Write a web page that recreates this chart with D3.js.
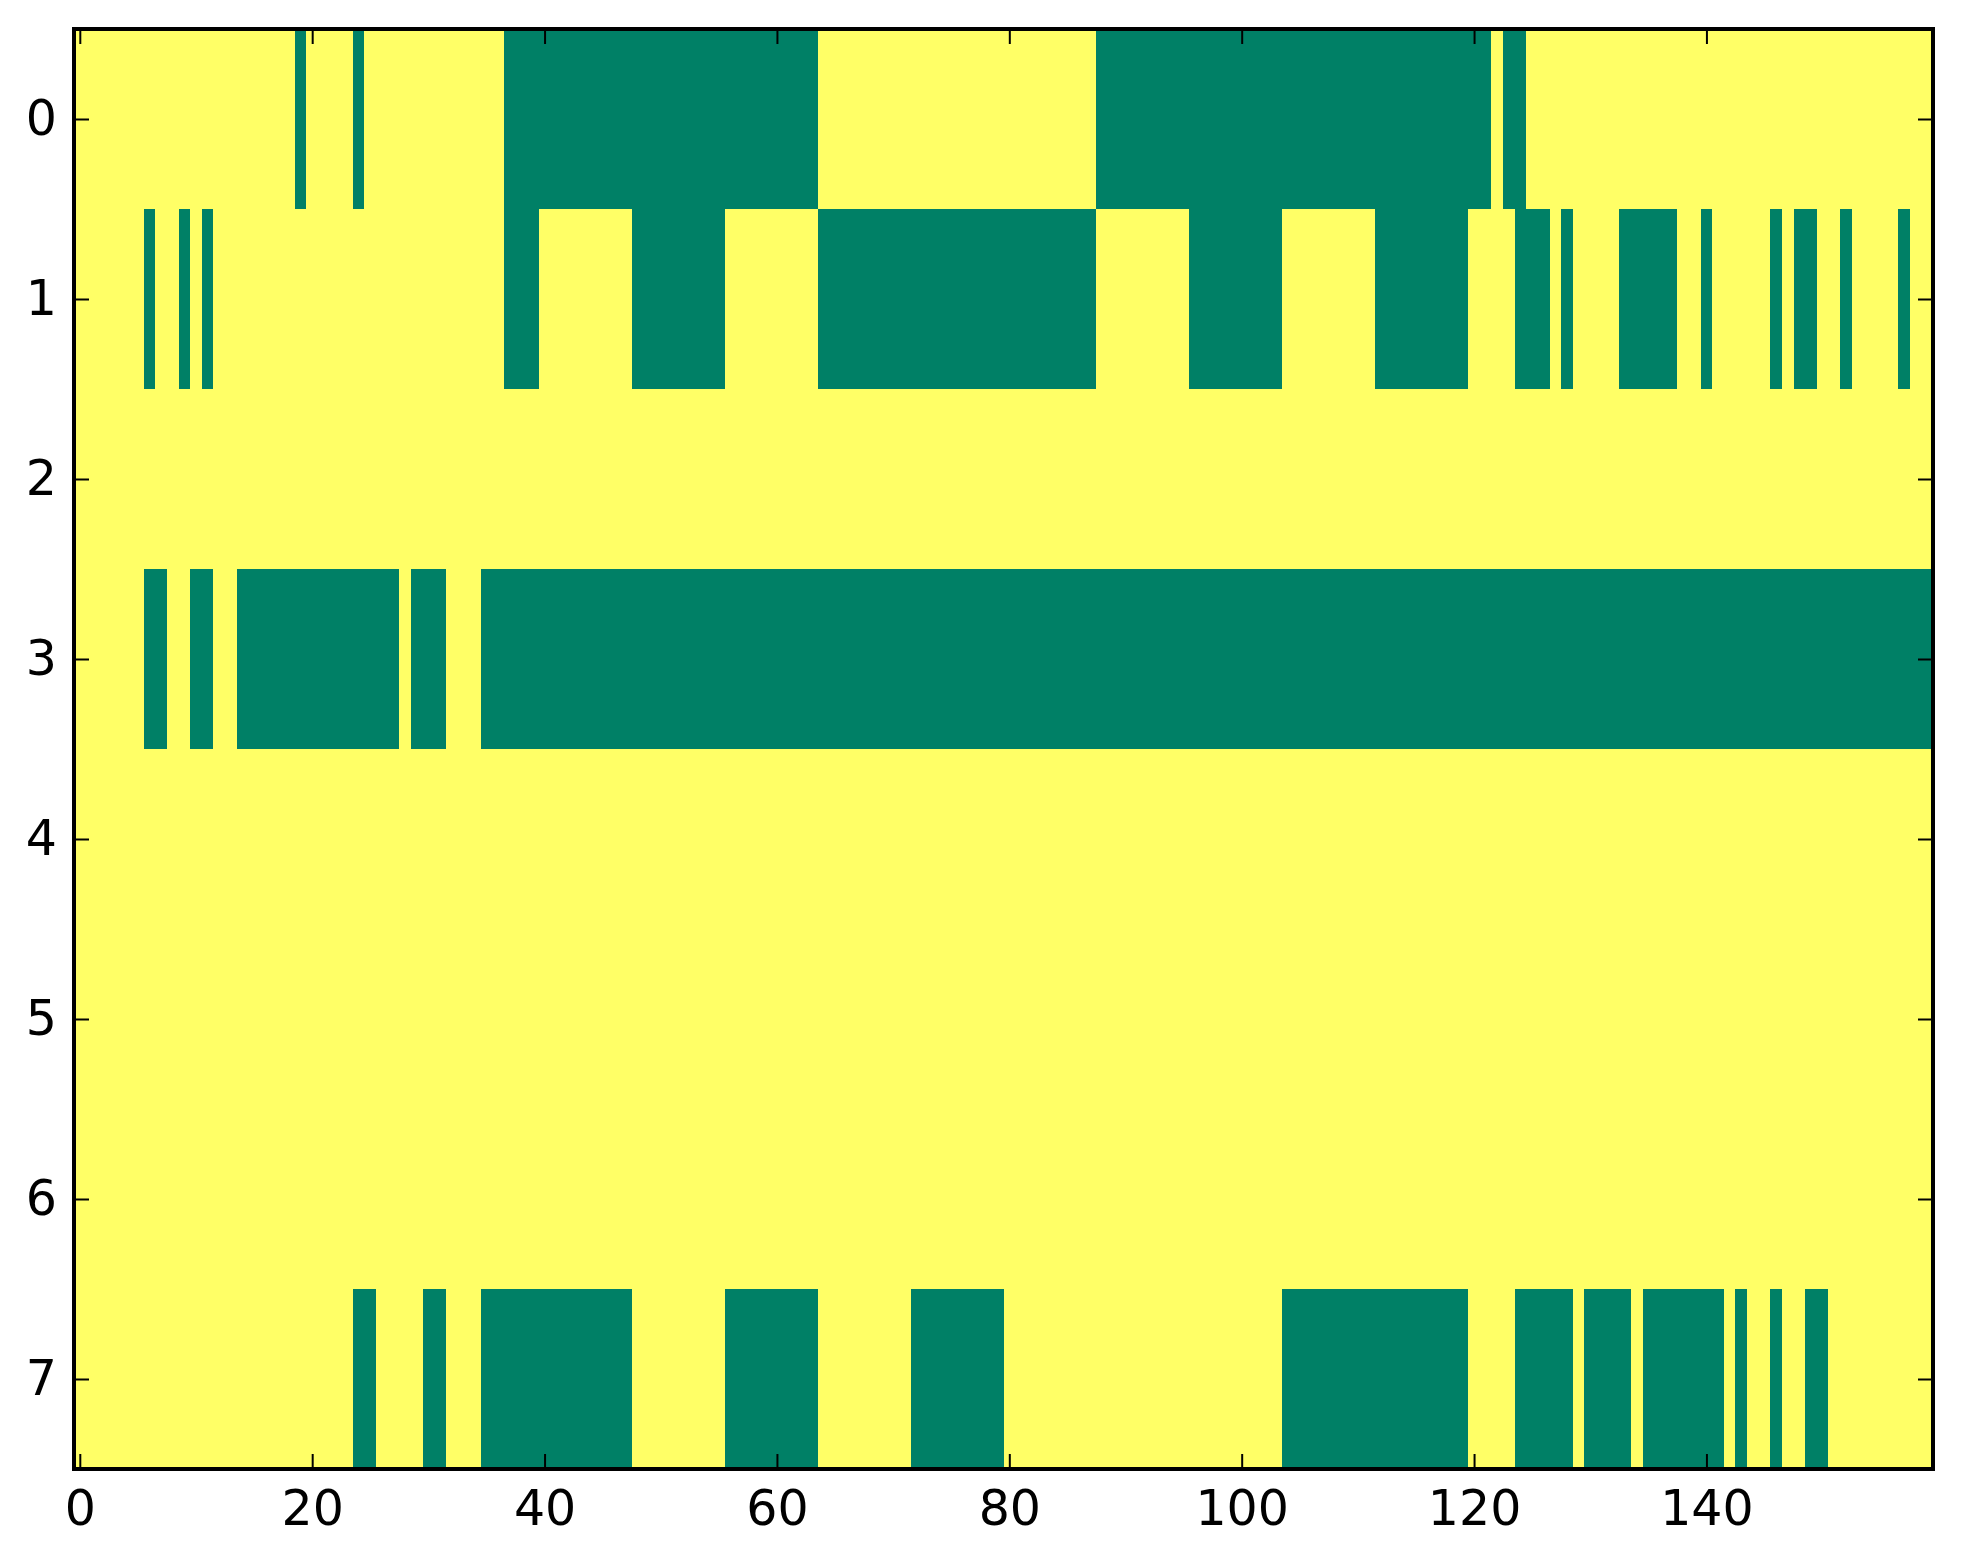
<!DOCTYPE html>
<html>
<head>
<meta charset="utf-8">
<script src="https://cdn.jsdelivr.net/npm/d3@7"></script>
<style>
  html, body { margin: 0; padding: 0; background: #ffffff; }
  svg { display: block; }
  .tick text { font-family: "DejaVu Sans", sans-serif; font-size: 49px; fill: #000; }
  .tick line { stroke: #000; stroke-width: 2; }
</style>
</head>
<body>
<script>
// Binary matrix (8 rows x 160 columns); 1 = yellow, 0 = green. Groups of 10 columns.
const row0 = "1111111111 1111111110 1111011111 1111111000 0000000000 0000000000 0000111111 1111111111 1111111100 0000000000 0000000000 0000000000 0010011111 1111111111 1111111111 1111111111";
const row1 = "1111110110 1011111111 1111111111 1111111000 1111111100 0000001111 1111000000 0000000000 0000000011 1111110000 0000111111 1100000000 1111000101 1110000011 0111110100 1101111011";
const row2 = "1111111111 1111111111 1111111111 1111111111 1111111111 1111111111 1111111111 1111111111 1111111111 1111111111 1111111111 1111111111 1111111111 1111111111 1111111111 1111111111";
const row3 = "1111110011 0011000000 0000000010 0011100000 0000000000 0000000000 0000000000 0000000000 0000000000 0000000000 0000000000 0000000000 0000000000 0000000000 0000000000 0000000000";
const row4 = "1111111111 1111111111 1111111111 1111111111 1111111111 1111111111 1111111111 1111111111 1111111111 1111111111 1111111111 1111111111 1111111111 1111111111 1111111111 1111111111";
const row5 = "1111111111 1111111111 1111111111 1111111111 1111111111 1111111111 1111111111 1111111111 1111111111 1111111111 1111111111 1111111111 1111111111 1111111111 1111111111 1111111111";
const row6 = "1111111111 1111111111 1111111111 1111111111 1111111111 1111111111 1111111111 1111111111 1111111111 1111111111 1111111111 1111111111 1111111111 1111111111 1111111111 1111111111";
const row7 = "1111111111 1111111111 1111001111 0011100000 0000000011 1111110000 0000111111 1100000000 1111111111 1111111111 1111000000 0000000000 1111000001 0000100000 0010110110 0111111111";
const rowStrings = [row0, row1, row2, row3, row4, row5, row6, row7];

const xTicks = [0, 20, 40, 60, 80, 100, 120, 140];
const yTicks = [0, 1, 2, 3, 4, 5, 6, 7];

(function () {
  const rows = rowStrings.map(s => s.replace(/\s+/g, "").split("").map(Number));
  const nCols = rows[0].length;
  const nRows = rows.length;

  const cells = [];
  rows.forEach((r, i) => r.forEach((v, j) => cells.push({ row: i, col: j, value: v })));

  const W = 1963, H = 1564;
  const mLeft = 74, mRight = 1933, mTop = 29, mBottom = 1469;

  const x = d3.scaleLinear().domain([-0.5, nCols - 0.5]).range([mLeft, mRight]);
  const y = d3.scaleLinear().domain([-0.5, nRows - 0.5]).range([mTop, mBottom]);
  const color = d3.scaleLinear().domain([0, 1]).range(["#008066", "#ffff66"]);

  const svg = d3.select("body").append("svg").attr("width", W).attr("height", H);

  svg.append("g")
    .selectAll("rect")
    .data(cells)
    .join("rect")
    .attr("x", d => x(d.col - 0.5))
    .attr("y", d => y(d.row - 0.5))
    .attr("width", d => x(d.col + 0.5) - x(d.col - 0.5) + 0.5)
    .attr("height", d => y(d.row + 0.5) - y(d.row - 0.5) + 0.5)
    .attr("fill", d => color(d.value))
    .attr("shape-rendering", "crispEdges");

  const tickLen = 15;

  const gBottom = svg.append("g").attr("transform", `translate(0,${mBottom})`)
    .call(d3.axisBottom(x).tickValues(xTicks).tickSizeInner(-tickLen).tickSizeOuter(0).tickPadding(21).tickFormat(d3.format("d")));
  const gTop = svg.append("g").attr("transform", `translate(0,${mTop})`)
    .call(d3.axisTop(x).tickValues(xTicks).tickSizeInner(-tickLen).tickSizeOuter(0).tickFormat(""));
  const gLeft = svg.append("g").attr("transform", `translate(${mLeft},0)`)
    .call(d3.axisLeft(y).tickValues(yTicks).tickSizeInner(-tickLen).tickSizeOuter(0).tickPadding(17).tickFormat(d3.format("d")));
  const gRight = svg.append("g").attr("transform", `translate(${mRight},0)`)
    .call(d3.axisRight(y).tickValues(yTicks).tickSizeInner(-tickLen).tickSizeOuter(0).tickFormat(""));

  [gBottom, gTop, gLeft, gRight].forEach(g => {
    g.select(".domain").remove();
    g.selectAll(".tick text").style("font-family", "'DejaVu Sans', sans-serif").style("font-size", "49px");
  });

  svg.append("rect")
    .attr("x", mLeft).attr("y", mTop)
    .attr("width", mRight - mLeft).attr("height", mBottom - mTop)
    .attr("fill", "none").attr("stroke", "#000").attr("stroke-width", 4);
})();
</script>
</body>
</html>
